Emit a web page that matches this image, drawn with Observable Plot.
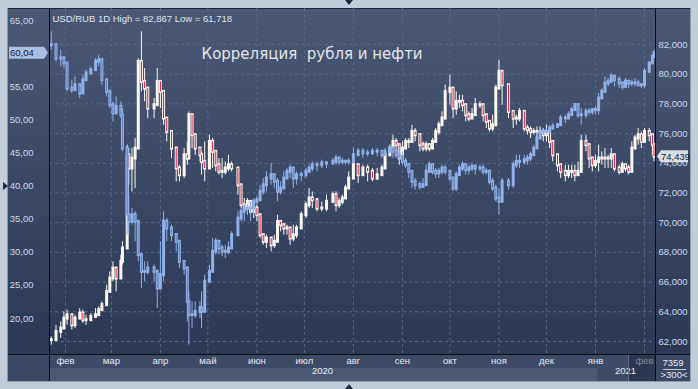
<!DOCTYPE html>
<html><head><meta charset="utf-8">
<script src="https://cdn.jsdelivr.net/npm/d3@7"></script>
<script src="https://cdn.jsdelivr.net/npm/@observablehq/plot@0.6"></script>
<style>
html,body{margin:0;padding:0;background:#c3ccd9;}
#chart svg text{white-space:pre;}
</style>
</head><body><div id="chart"></div>
<script>
// ---------- data ----------
const dates = [
"2020-01-23","2020-01-26","2020-01-29","2020-01-31","2020-02-02","2020-02-05","2020-02-07","2020-02-10","2020-02-12","2020-02-14",
"2020-02-17","2020-02-20","2020-02-22","2020-02-24","2020-02-27","2020-02-29","2020-03-02","2020-03-04","2020-03-07","2020-03-08",
"2020-03-11","2020-03-12","2020-03-14","2020-03-16","2020-03-18","2020-03-20","2020-03-22","2020-03-24","2020-03-28","2020-03-30",
"2020-04-01","2020-04-03","2020-04-05","2020-04-08","2020-04-11","2020-04-13","2020-04-16","2020-04-18","2020-04-19","2020-04-21",
"2020-04-23","2020-04-26","2020-04-27","2020-04-29","2020-05-02","2020-05-04","2020-05-06","2020-05-08","2020-05-10","2020-05-12",
"2020-05-14","2020-05-16","2020-05-20","2020-05-22","2020-05-24","2020-05-26","2020-05-28","2020-05-30","2020-06-01","2020-06-03",
"2020-06-05","2020-06-07","2020-06-10","2020-06-12","2020-06-14","2020-06-16","2020-06-18","2020-06-20","2020-06-22","2020-06-24",
"2020-06-26","2020-06-29","2020-07-02","2020-07-04","2020-07-06","2020-07-09","2020-07-12","2020-07-15","2020-07-19","2020-07-21",
"2020-07-23","2020-07-25","2020-07-27","2020-07-29","2020-08-01","2020-08-04","2020-08-07","2020-08-10","2020-08-13","2020-08-16",
"2020-08-19","2020-08-21","2020-08-24","2020-08-26","2020-08-28","2020-08-30","2020-09-01","2020-09-03","2020-09-05","2020-09-07",
"2020-09-09","2020-09-12","2020-09-14","2020-09-16","2020-09-18","2020-09-20","2020-09-22","2020-09-24","2020-09-26","2020-09-28",
"2020-10-01","2020-10-03","2020-10-05","2020-10-07","2020-10-09","2020-10-11","2020-10-13","2020-10-15","2020-10-17","2020-10-20",
"2020-10-22","2020-10-24","2020-10-26","2020-10-28","2020-10-30","2020-11-01","2020-11-03","2020-11-07","2020-11-10","2020-11-12",
"2020-11-14","2020-11-17","2020-11-19","2020-11-21","2020-11-23","2020-11-25","2020-11-27","2020-11-29","2020-12-01","2020-12-03",
"2020-12-05","2020-12-08","2020-12-10","2020-12-13","2020-12-15","2020-12-17","2020-12-19","2020-12-21","2020-12-23","2020-12-26",
"2020-12-28","2020-12-30","2021-01-01","2021-01-03","2021-01-05","2021-01-07","2021-01-09","2021-01-11","2021-01-13","2021-01-16",
"2021-01-18","2021-01-20","2021-01-22","2021-01-24","2021-01-26","2021-01-28","2021-01-30","2021-02-01","2021-02-04","2021-02-06",
"2021-02-07"];

// Brent oil (left axis)
const oilClose = [
61.27,59.26,59.26,58.51,54.73,54.48,55.23,53.98,55.99,57.00,
57.50,58.76,59.01,55.99,54.23,52.21,50.96,51.96,50.70,45.67,
35.61,34.60,35.61,34.60,29.57,27.05,27.05,27.55,27.05,24.53,
26.55,34.60,33.59,32.59,31.58,28.56,27.55,22.52,20.51,20.51,
21.01,21.51,21.01,25.54,27.05,30.07,31.58,30.57,30.07,30.07,
30.57,32.59,35.10,36.11,36.61,36.61,36.61,37.62,37.87,39.13,
40.13,41.14,41.65,40.64,39.13,39.63,41.14,42.15,42.65,41.14,
41.65,41.65,42.15,42.65,43.16,43.16,43.41,43.41,43.66,44.16,
43.66,43.66,43.66,43.66,44.66,45.17,44.92,44.92,45.17,45.17,
44.66,45.17,45.67,45.17,44.66,44.41,43.66,43.16,42.15,40.64,
40.13,39.88,40.13,42.15,43.16,42.15,41.90,42.15,42.65,42.15,
41.14,39.63,41.65,42.65,43.16,42.40,42.65,42.90,42.65,42.65,
42.15,42.15,40.64,39.63,38.12,37.62,40.64,40.13,43.16,43.66,
43.66,43.91,44.16,44.66,45.67,47.18,48.19,48.19,48.19,48.69,
48.94,49.19,50.20,50.20,50.70,51.46,52.21,50.70,50.70,51.21,
51.21,51.46,51.46,53.22,54.23,55.49,55.74,56.49,55.99,55.49,
54.98,55.74,55.49,55.49,55.49,55.23,55.23,57.25,58.51,59.51,
60.04];
const oilHigh = [
63.29,60.77,60.52,59.51,56.74,55.99,56.49,54.73,56.74,57.50,
58.00,59.26,59.76,58.25,55.99,53.72,52.72,53.47,52.72,51.71,
45.67,38.62,36.61,36.11,31.58,29.06,28.56,28.56,28.06,26.55,
31.58,36.11,35.10,34.10,32.59,30.57,28.56,26.55,24.03,22.52,
22.52,22.52,24.03,26.55,28.06,32.08,32.08,31.58,31.08,31.08,
31.58,33.09,36.11,36.61,37.11,37.11,37.62,38.12,38.37,40.13,
41.14,42.15,43.41,41.65,41.14,40.64,42.15,42.65,43.16,42.15,
42.15,42.15,42.65,43.16,43.66,43.66,43.91,43.66,44.16,44.66,
44.16,44.16,43.91,44.16,45.67,45.67,45.67,45.42,45.67,45.67,
45.17,45.67,46.17,45.67,45.17,46.17,45.17,44.16,42.65,41.65,
41.14,40.64,41.14,43.16,43.66,43.16,42.65,42.65,43.16,43.16,
42.15,41.14,42.15,43.16,43.66,43.16,43.16,43.41,43.16,43.16,
43.16,42.65,41.65,41.14,40.13,39.63,41.14,41.14,43.66,44.66,
44.66,44.66,44.66,45.17,46.17,48.19,48.69,48.69,48.69,49.19,
49.45,49.45,50.70,50.70,51.21,51.96,52.47,52.47,51.71,51.71,
51.71,51.71,51.96,53.98,54.73,56.49,56.24,57.00,56.74,56.49,
55.49,56.24,55.99,55.99,56.24,55.99,55.49,57.75,58.76,59.76,
60.52];
const oilLow = [
60.52,58.76,58.00,57.75,54.23,53.98,54.23,53.22,54.73,55.99,
56.74,57.50,58.00,55.23,53.47,51.71,49.70,51.21,50.20,45.17,
32.59,32.59,34.10,31.58,28.56,24.53,25.54,26.55,25.54,21.51,
25.54,25.54,31.58,31.58,30.07,27.55,26.55,19.50,15.98,18.49,
20.00,20.00,18.49,21.51,25.54,27.55,29.57,29.57,29.31,29.06,
29.57,31.58,34.10,34.60,34.60,35.61,34.60,35.61,37.11,38.12,
38.62,39.13,40.13,39.63,37.62,38.62,39.63,41.14,41.14,39.63,
40.13,40.64,41.14,42.15,42.15,42.15,42.65,42.65,43.16,43.16,
43.16,43.16,43.16,43.16,43.66,44.66,44.16,44.41,44.66,44.41,
44.16,44.66,45.17,44.16,44.16,43.66,43.16,42.65,41.14,39.63,
39.38,39.38,39.63,40.64,42.15,41.65,41.14,41.14,41.65,41.65,
40.64,39.13,39.13,41.65,42.15,41.65,41.65,42.15,41.65,42.15,
41.65,41.65,40.13,39.13,37.62,35.61,38.62,39.38,39.63,42.65,
42.65,43.16,43.16,43.66,44.66,45.67,47.68,47.68,47.68,48.19,
48.44,48.69,49.19,49.45,49.95,50.70,51.46,50.20,49.19,50.20,
50.70,50.70,50.70,50.70,53.22,54.48,54.98,55.49,54.98,54.73,
54.48,54.98,54.73,54.98,54.98,54.98,54.73,54.73,57.50,58.51,
59.26];

// USD/RUB (right axis)
const usdClose = [
62.09,62.64,62.87,63.54,63.77,63.09,63.54,63.88,63.43,63.43,
63.66,63.77,64.11,64.44,65.34,66.24,66.91,66.24,67.36,68.26,
74.54,73.65,74.32,74.99,80.83,79.48,79.03,77.69,77.91,79.48,
78.81,77.01,76.11,74.99,73.65,73.20,74.54,74.32,77.24,75.89,
74.99,74.54,74.09,73.65,75.44,74.77,73.87,73.42,73.42,73.65,
73.87,73.65,72.52,71.18,70.95,71.40,70.73,70.95,70.50,69.16,
68.71,68.93,68.48,68.71,70.05,69.83,69.61,69.61,68.93,69.16,
69.61,70.50,71.18,71.63,71.51,70.95,70.95,71.40,71.85,71.18,
71.40,71.63,72.30,72.97,73.87,73.20,73.65,73.42,72.97,73.20,
73.65,74.54,74.99,75.44,75.22,74.32,74.99,75.44,75.44,76.11,
75.89,75.22,74.99,75.22,74.99,75.44,76.11,76.56,77.01,78.81,
79.03,77.69,78.14,78.14,77.91,77.24,77.01,77.24,77.91,77.91,
77.24,76.79,76.34,76.56,79.03,80.16,79.26,77.46,77.01,77.01,
77.46,76.34,76.23,76.11,76.11,76.11,76.11,75.89,76.11,75.44,
74.54,73.87,73.42,73.20,73.42,73.42,73.20,73.42,75.44,75.22,
74.32,73.87,74.09,74.32,74.32,74.32,74.32,74.54,73.65,73.42,
73.87,73.65,73.42,74.99,75.67,75.89,75.44,76.11,75.89,75.22,
74.439];
const usdHigh = [
62.31,63.09,63.32,63.99,64.11,63.54,63.77,64.22,64.11,63.77,
63.88,64.22,64.33,64.67,65.79,66.69,67.36,66.91,67.81,68.71,
75.22,74.99,74.99,75.67,81.05,82.85,80.38,78.81,78.36,80.38,
79.48,78.58,77.01,75.89,74.54,73.87,74.99,75.44,77.46,77.24,
75.44,74.77,74.77,75.44,75.89,75.67,74.77,74.32,74.32,74.09,
74.54,74.09,72.75,72.52,71.63,71.63,71.40,71.40,71.18,70.39,
69.16,69.16,68.93,69.16,70.50,70.05,69.83,69.83,69.61,69.83,
69.83,70.73,71.40,72.30,72.07,71.63,71.40,71.85,72.07,72.07,
71.63,71.85,72.52,73.42,74.32,73.87,73.87,73.87,73.65,73.65,
73.87,74.77,75.22,75.89,75.67,74.99,75.44,75.67,75.67,76.56,
76.34,75.44,75.44,75.44,75.22,75.67,76.34,76.79,77.46,79.26,
79.93,79.03,78.81,78.58,78.58,77.91,77.46,77.69,78.36,78.14,
77.91,77.24,76.79,77.24,79.26,80.94,79.93,77.91,77.46,77.24,
77.69,77.24,76.56,76.45,76.34,76.45,76.45,76.34,76.56,76.11,
74.99,74.09,73.87,73.87,73.87,73.87,73.87,74.09,75.89,75.89,
74.54,74.32,74.54,75.22,74.77,74.99,74.54,74.99,74.09,73.87,
74.09,73.87,73.87,75.44,75.89,76.34,76.11,76.34,76.34,75.67,
74.77];
const usdLow = [
61.75,62.20,62.20,63.09,63.09,62.76,62.87,63.54,63.21,63.09,
63.43,63.54,63.77,64.11,64.89,65.56,66.01,65.34,66.46,67.14,
71.85,72.52,72.07,72.30,74.99,78.81,78.14,77.01,77.01,78.36,
77.69,76.56,75.44,74.32,72.75,72.75,72.97,73.87,75.89,74.99,
74.54,74.09,73.20,72.75,74.77,73.65,73.42,73.20,72.97,73.20,
73.42,73.42,71.85,70.95,70.73,70.50,70.50,70.28,70.05,68.93,
68.48,68.26,68.03,68.26,69.16,69.38,69.16,69.16,68.48,68.71,
68.93,69.61,70.28,70.95,70.95,70.73,70.73,70.73,71.40,70.73,
70.95,71.18,71.85,72.30,72.97,72.64,73.20,72.75,72.75,72.86,
73.20,73.65,74.54,74.99,74.77,73.87,74.09,74.99,74.99,75.44,
75.44,74.77,74.77,74.77,74.77,74.99,75.44,75.89,76.56,77.24,
77.91,77.01,77.24,77.69,77.46,76.79,76.79,77.01,77.46,77.69,
76.79,76.34,76.11,76.11,77.69,79.03,77.91,77.01,76.34,76.56,
76.79,76.11,75.89,75.67,75.89,75.67,75.67,75.44,75.44,74.99,
74.09,73.42,72.97,72.75,72.97,72.97,72.75,73.20,73.65,74.77,
73.65,73.42,73.65,73.42,73.87,73.65,73.65,73.65,73.42,73.20,
73.42,73.42,73.20,73.65,75.22,75.22,74.99,75.44,75.44,74.54,
74.09];

const leftTicks = [20, 25, 30, 35, 40, 45, 50, 55, 60, 65];
const rightTicks = [62, 64, 66, 68, 70, 72, 74, 76, 78, 80, 82];
const monthStarts = ["2020-02-01","2020-03-01","2020-04-01","2020-05-01","2020-06-01","2020-07-01",
  "2020-08-01","2020-09-01","2020-10-01","2020-11-01","2020-12-01","2021-01-01","2021-02-01"];
const monthNames = ["янв","фев","мар","апр","май","июн","июл","авг","сен","окт","ноя","дек"];
const yearLabels = ["2020", "2021"];
const headerText = "USD/RUB 1D High = 82,867 Low = 61,718";
const titleText = "Корреляция  рубля и нефти";
const volumeText = "7359";
const rangeText = ">300<";

// ---------- build ----------
const parse = d3.utcParse("%Y-%m-%d");
// right-axis (USD/RUB) values expressed in left-axis (oil) units
const toLeft = d3.scaleLinear().domain([62, 82]).range([16.53, 61.376]);
const comma = (v, n) => v.toFixed(n).replace(".", ",");

function candles(close, high, low, map) {
  return dates.map((d, i) => {
    const c = close[i], o = i ? close[i - 1] : close[i];
    return {date: parse(d), open: map(o), close: map(c),
      hi: map(Math.max(high[i], o, c)), lo: map(Math.min(low[i], o, c)), down: c < o};
  });
}
const oil = candles(oilClose, oilHigh, oilLow, v => v);
const usd = candles(usdClose, usdHigh, usdLow, toLeft);

const DAY = 864e5;
const x0 = new Date(Date.UTC(2020, 1, 1) - 10.11 * DAY);
const x1 = new Date(Date.UTC(2021, 1, 1) + 6.95 * DAY);
const months = monthStarts.map(parse);
const yearMid = y => {
  const a = Math.max(+x0, Date.UTC(+y, 0, 1)), b = Math.min(+x1, Date.UTC(+y + 1, 0, 1));
  return new Date((a + b) / 2);
};

const grid = "#5a6886";
const white = "#fbf7f0", red = "#e0163e";
const blue = "#8fb2e8", blueIn = "#6382bd";
const axisText = "#cdd8ec";

const chart = Plot.plot({
  width: 698, height: 389,
  marginLeft: 49, marginRight: 43, marginTop: 8, marginBottom: 35,
  style: {background: "#c3ccd9", fontFamily: "'Liberation Sans', Arial, sans-serif", color: axisText, overflow: "visible"},
  x: {type: "utc", domain: [x0, x1]},
  y: {domain: [14.56, 66.81]},
  marks: [
    Plot.ruleY(rightTicks, {y: d => toLeft(d), stroke: grid, strokeDasharray: "3,3"}),
    Plot.ruleX(months, {x: d => d, stroke: grid, strokeDasharray: "3,3"}),
    // USD/RUB candles
    Plot.ruleX(usd, {x: "date", y1: "lo", y2: "hi", stroke: white, strokeWidth: 1}),
    Plot.ruleX(usd, {x: "date", y1: "open", y2: "close", stroke: white, strokeWidth: 3, strokeLinecap: "square"}),
    Plot.ruleX(usd.filter(d => d.down), {x: "date", y1: "open", y2: "close", stroke: red, strokeWidth: 1}),
    // Oil candles
    Plot.ruleX(oil, {x: "date", y1: "lo", y2: "hi", stroke: blue, strokeWidth: 1}),
    Plot.ruleX(oil, {x: "date", y1: "open", y2: "close", stroke: blue, strokeWidth: 3, strokeLinecap: "square"}),
    Plot.ruleX(oil.filter(d => d.down), {x: "date", y1: "open", y2: "close", stroke: blueIn, strokeWidth: 1}),
    // axes
    Plot.axisY(leftTicks, {anchor: "left", tickSize: 0, tickPadding: 16, fontSize: 9.5,
      tickFormat: d => comma(d, 2), label: null}),
    Plot.axisY(rightTicks.map(toLeft), {anchor: "right", tickSize: 0, tickPadding: 3, fontSize: 9.5,
      tickFormat: v => comma(toLeft.invert(v), 3), label: null}),
    Plot.axisX(months.slice(0, -1), {anchor: "bottom", tickSize: 0, tickPadding: 3, fontSize: 9.5,
      tickFormat: d => monthNames[d.getUTCMonth()], fill: "#e4eaf4", label: null}),
    Plot.axisX(months.slice(-1), {anchor: "bottom", tickSize: 0, tickPadding: 3, fontSize: 9.5,
      tickFormat: d => monthNames[d.getUTCMonth()], fill: "#7c879d", label: null}),
    Plot.text(yearLabels, {x: yearMid, text: d => d, frameAnchor: "bottom", dy: 19, fontSize: 9.5, fill: "#e4eaf4"}),
    Plot.text([headerText], {frameAnchor: "top-left", dx: 3, dy: 6.5, textAnchor: "start", fontSize: 9.5, fill: "#dfe6f2"}),
    Plot.text([titleText], {frameAnchor: "top-left", dx: 152, dy: 39.5, textAnchor: "start", fontSize: 15,
      fontFamily: "DejaVu Sans", fill: "#e3e5ea"})
  ]
});

// ---------- terminal chrome ----------
const svg = d3.select(chart);
const bg = svg.insert("g", ":first-child");
const defs = svg.insert("defs", ":first-child");
const lg = defs.append("linearGradient").attr("id", "panelGrad").attr("x1", 0).attr("y1", 0).attr("x2", 0).attr("y2", 1);
lg.append("stop").attr("offset", "0%").attr("stop-color", "#4a5775");
lg.append("stop").attr("offset", "100%").attr("stop-color", "#2c3956");
const R = (x, y, w, h, f) => bg.append("rect").attr("x", x).attr("y", y).attr("width", w).attr("height", h).attr("fill", f);
R(8, 8, 682, 346, "url(#panelGrad)");
R(8, 354, 41, 27, "#3a4765");
R(49, 354, 606, 14, "#3d4a68");
R(49, 368, 548, 13, "#4b5977");
R(597, 368, 31, 13, "#3f4c69");
R(628, 354, 27, 27, "#2c3853");
R(655, 354, 35, 27, "#3a4765");
const L = (x1, y1, x2, y2, s) => bg.append("line").attr("x1", x1).attr("y1", y1).attr("x2", x2).attr("y2", y2).attr("stroke", s);
L(7.5, 8, 7.5, 382, "#8e9ab0");
L(8, 381.5, 690, 381.5, "#8e9ab0");
L(690.5, 8, 690.5, 382, "#8e9ab0");
L(8, 8.5, 690, 8.5, "#1b2336");

const fg = svg.append("g");
const TL = (x1, y1, x2, y2, s) => fg.append("line").attr("x1", x1).attr("y1", y1).attr("x2", x2).attr("y2", y2).attr("stroke", s);
TL(49.5, 8, 49.5, 381, "#0b0e16");
TL(655.5, 8, 655.5, 381, "#0b0e16");
TL(8, 354.5, 690, 354.5, "#0b0e16");
TL(628.5, 355, 628.5, 381, "#5f6c88");
TL(663, 369.5, 686, 369.5, "#c8d0de");
const T = (x, y, s, f, anchor = "middle") => fg.append("text").attr("x", x).attr("y", y).attr("fill", f)
  .attr("font-size", 9.5).attr("text-anchor", anchor).text(s);
T(673, 366, volumeText, "#e4eaf4");
T(674, 378, rangeText, "#e4eaf4");
// small navigation triangles
fg.append("path").attr("d", "M345,0L353,0L349,5Z").attr("fill", "#222b3e");
fg.append("path").attr("d", "M345,389L353,389L349,384Z").attr("fill", "#222b3e");
fg.append("path").attr("d", "M3,182L3,190L8,186Z").attr("fill", "#222b3e");

// last-value markers
const ys = chart.scale("y");
const yo = ys.apply(oilClose[oilClose.length - 1]);
fg.append("path").attr("d", `M9,${yo - 6}L44,${yo - 6}L48,${yo}L44,${yo + 6}L9,${yo + 6}Z`).attr("fill", "#a8bfe2");
T(10, yo + 3.5, comma(oilClose[oilClose.length - 1], 2), "#15223c", "start");
const yu = ys.apply(toLeft(usdClose[usdClose.length - 1]));
fg.append("path").attr("d", `M657,${yu}L661,${yu - 6}L688,${yu - 6}L688,${yu + 6}L661,${yu + 6}Z`).attr("fill", "#d9dde5");
T(661, yu + 3.5, comma(usdClose[usdClose.length - 1], 3), "#141a28", "start");

document.getElementById("chart").append(chart);
</script>
</body></html>
